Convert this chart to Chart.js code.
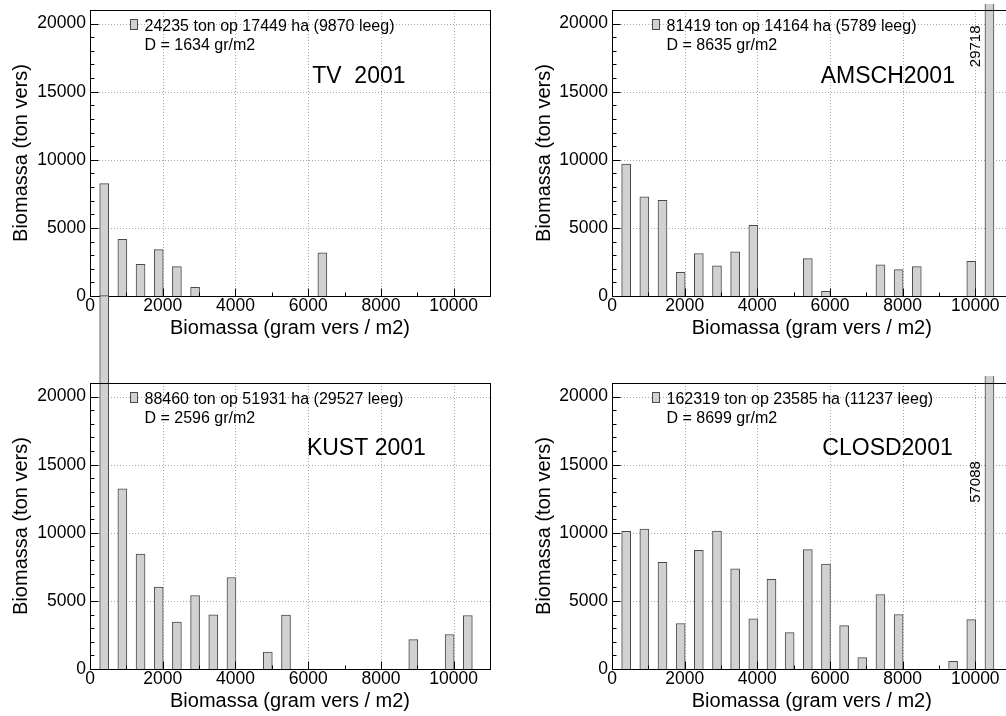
<!DOCTYPE html>
<html>
<head>
<meta charset="utf-8">
<script src="https://cdn.jsdelivr.net/npm/chart.js@4.4.1/dist/chart.umd.min.js"></script>
<style>
  html, body { margin: 0; padding: 0; background: #fff; overflow: hidden; }
  #wrap { position: relative; width: 1006px; height: 716px; overflow: hidden; }
  .panel { position: absolute; }
</style>
</head>
<body>
<div id="wrap"></div>
<script>
// Biomassa per klasse van 500 gram vers / m2, vier gebieden 2001

// bar position of each 500 g/m2 class on the x axis
const massClass = [390, 890, 1390, 1890, 2390, 2890, 3390, 3890, 4390, 4890, 5390,
                   5890, 6390, 6890, 7390, 7890, 8390, 8890, 9390, 9890, 10390];

const tvValues    = [8250, 4170, 2330, 3410, 2160, 640, null, null, null, null, null,
                     null, 3170, null, null, null, null, null, null, null, null];
const amschValues = [9690, 7290, 7020, 1740, 3120, 2210, 3240, 5180, null, null, 2750,
                     340, null, null, 2280, 1940, 2160, null, null, 2550, 29718];
const kustValues  = [27420, 13230, 8440, 6010, 3440, 5400, 3980, 6720, null, 1250, 3950,
                     null, null, null, null, null, null, 2160, null, 2530, 3930];
const closdValues = [10110, 10280, 7830, 3340, 8710, 10130, 7360, 3680, 6580, 2670, 8760,
                     7710, 3190, 830, 5470, 4000, null, null, 560, 3630, 57088];

const xTicks = [0, 2000, 4000, 6000, 8000, 10000];
const xMinor = [1000, 3000, 5000, 7000, 9000];
const yTicks = [0, 5000, 10000, 15000, 20000];
const yMinor = [1000, 2000, 3000, 4000, 6000, 7000, 8000, 9000, 11000, 12000, 13000, 14000,
                16000, 17000, 18000, 19000];

const xTitle = 'Biomassa (gram vers / m2)';
const yTitle = 'Biomassa (ton vers)';

const tvLegend    = ['24235 ton op 17449 ha (9870 leeg)', 'D = 1634 gr/m2'];
const amschLegend = ['81419 ton op 14164 ha (5789 leeg)', 'D = 8635 gr/m2'];
const kustLegend  = ['88460 ton op 51931 ha (29527 leeg)', 'D = 2596 gr/m2'];
const closdLegend = ['162319 ton op 23585 ha (11237 leeg)', 'D = 8699 gr/m2'];

const FONT = '"Liberation Sans", Arial, Helvetica, sans-serif';
const BAR_FILL = '#d1d1d1';
const BAR_EDGE = '#4a4a4a';

const panels = [
  { name: 'TV  2001', values: tvValues, legend: tvLegend,
    box: { x: 0, y: 0, w: 503, h: 358 }, plot: { l: 90, t: 10, r: 490, b: 296 },
    yTitlePad: 9, nameAt: { x: 6110, y: 15660 } },
  { name: 'AMSCH2001', values: amschValues, legend: amschLegend,
    box: { x: 503, y: 4, w: 520, h: 354 }, plot: { l: 612, t: 10, r: 1011.6, b: 296 },
    yTitlePad: 29, nameAt: { x: 5745, y: 15640 }, valueLabel: { index: 20, at: 16800 } },
  { name: 'KUST 2001', values: kustValues, legend: kustLegend,
    box: { x: 0, y: 290, w: 503, h: 426 }, plot: { l: 90, t: 383, r: 490, b: 669 },
    yTitlePad: 9, nameAt: { x: 5965, y: 15715 } },
  { name: 'CLOSD2001', values: closdValues, legend: closdLegend,
    box: { x: 503, y: 376, w: 520, h: 340 }, plot: { l: 612, t: 383, r: 1011.6, b: 669 },
    yTitlePad: 29, nameAt: { x: 5790, y: 15715 }, valueLabel: { index: 20, at: 12200 } }
];

// dotted grid under the bars; frame, inward ticks, legend and labels on top
const histFrame = {
  id: 'histFrame',
  beforeDatasetsDraw(chart) {
    const { ctx, chartArea: a, scales: { x, y } } = chart;
    ctx.save();
    ctx.strokeStyle = '#a8a8a8';
    ctx.lineWidth = 1;
    ctx.setLineDash([1, 2]);
    xTicks.filter(v => v > 0).forEach(v => {
      const px = Math.round(x.getPixelForValue(v)) + 0.5;
      ctx.beginPath(); ctx.moveTo(px, a.top); ctx.lineTo(px, a.bottom); ctx.stroke();
    });
    yTicks.filter(v => v > 0).forEach(v => {
      const py = Math.round(y.getPixelForValue(v)) + 0.5;
      ctx.beginPath(); ctx.moveTo(a.left, py); ctx.lineTo(a.right, py); ctx.stroke();
    });
    ctx.restore();
  },
  afterDatasetsDraw(chart, args, opts) {
    const p = opts.panel;
    const { ctx, chartArea: a, scales: { x, y } } = chart;
    const L = Math.round(a.left) + 0.5, R = Math.round(a.right) + 0.5;
    const T = Math.round(a.top) + 0.5, B = Math.round(a.bottom) + 0.5;
    ctx.save();
    ctx.strokeStyle = '#000';
    ctx.lineWidth = 1;
    ctx.strokeRect(L, T, R - L, B - T);

    ctx.beginPath();
    xTicks.forEach(v => { const px = Math.round(x.getPixelForValue(v)) + 0.5; ctx.moveTo(px, B); ctx.lineTo(px, B - 8); });
    xMinor.forEach(v => { const px = Math.round(x.getPixelForValue(v)) + 0.5; ctx.moveTo(px, B); ctx.lineTo(px, B - 4); });
    yTicks.forEach(v => { const py = Math.round(y.getPixelForValue(v)) + 0.5; ctx.moveTo(L, py); ctx.lineTo(L + 8, py); });
    yMinor.forEach(v => { const py = Math.round(y.getPixelForValue(v)) + 0.5; ctx.moveTo(L, py); ctx.lineTo(L + 4, py); });
    ctx.stroke();

    // legend: box + two text lines
    ctx.fillStyle = BAR_FILL;
    ctx.strokeStyle = BAR_EDGE;
    ctx.fillRect(L + 40, T + 9, 7, 10);
    ctx.strokeRect(L + 40, T + 9, 7, 10);
    ctx.fillStyle = '#000';
    ctx.font = '16px ' + FONT;
    ctx.textAlign = 'left';
    ctx.textBaseline = 'alphabetic';
    ctx.fillText(p.legend[0], L + 54, T + 20.5);
    ctx.fillText(p.legend[1], L + 54, T + 39);

    // area name
    ctx.font = '23px ' + FONT;
    ctx.fillText(p.name, x.getPixelForValue(p.nameAt.x), y.getPixelForValue(p.nameAt.y));

    // value of the clipped last bar, written upright along its left side
    if (p.valueLabel) {
      const bar = chart.getDatasetMeta(0).data[p.valueLabel.index];
      ctx.font = '15px ' + FONT;
      ctx.translate(bar.x - bar.width / 2 - 5, y.getPixelForValue(p.valueLabel.at));
      ctx.rotate(-Math.PI / 2);
      ctx.fillText(String(p.values[p.valueLabel.index]), 0, 0);
    }
    ctx.restore();
  }
};

// keep the plot box exactly where the layout padding puts it
function noLabelPadding(s) {
  s.paddingTop = 0; s.paddingBottom = 0; s.paddingLeft = 0; s.paddingRight = 0;
}

function makePanel(p) {
  const c = document.createElement('canvas');
  c.width = p.box.w;
  c.height = p.box.h;
  c.className = 'panel';
  c.style.left = p.box.x + 'px';
  c.style.top = p.box.y + 'px';
  document.getElementById('wrap').appendChild(c);

  const bottom = p.box.y + p.box.h;
  const tickFont = { family: FONT, size: 17.5, lineHeight: 1 };
  const titleFont = { family: FONT, size: 20, lineHeight: 1.2 };

  new Chart(c, {
    type: 'bar',
    data: {
      datasets: [{
        data: massClass.map((m, i) => ({ x: m, y: p.values[i] })),
        backgroundColor: BAR_FILL,
        borderColor: BAR_EDGE,
        borderWidth: 1,
        barThickness: 9,
        clip: false
      }]
    },
    options: {
      responsive: false,
      animation: false,
      events: [],
      layout: { padding: { left: 0, top: p.plot.t - p.box.y, right: p.box.x + p.box.w - p.plot.r, bottom: 0 } },
      plugins: { legend: { display: false }, tooltip: { enabled: false }, histFrame: { panel: p } },
      scales: {
        x: {
          type: 'linear', min: 0, max: 11000, offset: false,
          grid: { display: false, drawTicks: false },
          border: { display: false },
          afterBuildTicks: s => { s.ticks = xTicks.map(v => ({ value: v })); },
          afterFit: s => { s.height = bottom - p.plot.b; noLabelPadding(s); },
          ticks: { padding: 1, autoSkip: false, maxRotation: 0, color: '#000', font: tickFont, callback: v => String(v) },
          title: { display: true, text: xTitle, color: '#000', font: titleFont,
                   padding: { top: 0, bottom: bottom - (p.plot.b + 32) - 12 } }
        },
        y: {
          min: 0, max: 21000,
          grid: { display: false, drawTicks: false },
          border: { display: false },
          afterBuildTicks: s => { s.ticks = yTicks.map(v => ({ value: v })); },
          afterFit: s => { s.width = p.plot.l - p.box.x; noLabelPadding(s); },
          ticks: { padding: 4, color: '#000', font: tickFont, callback: v => String(v) },
          title: { display: true, text: yTitle, color: '#000', font: titleFont,
                   padding: { top: p.yTitlePad, bottom: 0 } }
        }
      }
    },
    plugins: [histFrame]
  });
}

panels.forEach(makePanel);
</script>
</body>
</html>
